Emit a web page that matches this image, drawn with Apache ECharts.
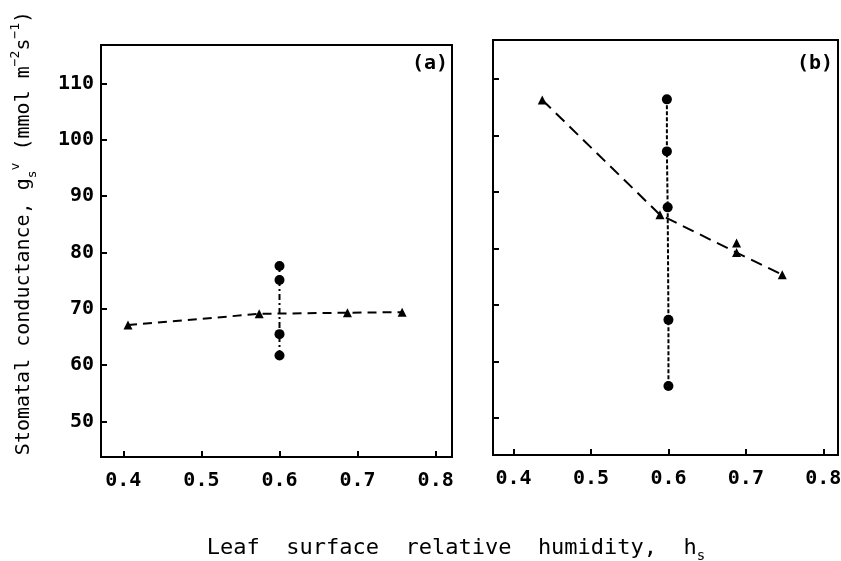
<!DOCTYPE html>
<html>
<head>
<meta charset="utf-8">
<style>html,body{margin:0;padding:0;background:#fff;}#c{width:841px;height:561px;}</style>
<script src="https://cdn.jsdelivr.net/npm/echarts@6/dist/echarts.min.js"></script>
</head>
<body>
<div id="c"></div>
<script>
// ---- data ----
var xTicks = [0.4, 0.5, 0.6, 0.7, 0.8];
var yTicks = [50, 60, 70, 80, 90, 100, 110];
// panel (a)
var aTriangles = [[0.406, 67.1], [0.574, 69.1], [0.687, 69.3], [0.757, 69.4]];
var aCircles = [[0.6, 77.6], [0.6, 75.1], [0.6, 65.5], [0.6, 61.7]];
// panel (b)
var bTriangles = [[0.437, 106.3], [0.589, 86.0], [0.688, 79.3], [0.747, 75.4]];
var bTriangleExtra = [[0.688, 81.0]];
var bCircles = [[0.598, 106.4], [0.598, 97.2], [0.599, 87.3], [0.6, 67.4], [0.6, 55.7]];

var FONT = 'DejaVu Sans Mono';

function xAxisCfg(gi, mn, mx) {
  return {
    type: 'value', gridIndex: gi, min: mn, max: mx,
    axisLine: {show: true, lineStyle: {color: '#000', width: 2}},
    axisTick: {show: true, inside: true, length: 6, customValues: xTicks, lineStyle: {color: '#000', width: 2}},
    axisLabel: {show: true, customValues: xTicks, color: '#000', fontSize: 20, fontWeight: 'bold', fontFamily: FONT, margin: 14,
      formatter: function (v) { return v.toFixed(1); }},
    splitLine: {show: false}
  };
}
function yAxisCfg(gi, mn, mx, showLabel) {
  return {
    type: 'value', gridIndex: gi, min: mn, max: mx,
    axisLine: {show: true, lineStyle: {color: '#000', width: 2}},
    axisTick: {show: true, inside: true, length: 6, customValues: yTicks, lineStyle: {color: '#000', width: 2}},
    axisLabel: {show: showLabel, customValues: yTicks, color: '#000', fontSize: 20, fontWeight: 'bold', fontFamily: FONT, margin: 7},
    splitLine: {show: false}
  };
}

var chart = echarts.init(document.getElementById('c'), null, {renderer: 'canvas'});
chart.setOption({
  backgroundColor: '#fff',
  animation: false,
  grid: [
    {left: 101, top: 45, width: 351, height: 412, show: true, borderColor: '#000', borderWidth: 2, containLabel: false, outerBoundsMode: 'none'},
    {left: 493, top: 40, width: 345, height: 415, show: true, borderColor: '#000', borderWidth: 2, containLabel: false, outerBoundsMode: 'none'}
  ],
  xAxis: [xAxisCfg(0, 0.3714, 0.8209), xAxisCfg(1, 0.3734, 0.819)],
  yAxis: [yAxisCfg(0, 43.7, 116.8, true), yAxisCfg(1, 43.5, 116.9, false)],
  series: [
    {type: 'line', xAxisIndex: 0, yAxisIndex: 0, data: aTriangles, symbol: 'triangle', symbolSize: 9,
      itemStyle: {color: '#000'}, lineStyle: {color: '#000', width: 2, type: [9, 6]}},
    {type: 'line', xAxisIndex: 0, yAxisIndex: 0, data: aCircles, symbol: 'circle', symbolSize: 10,
      itemStyle: {color: '#000'}, lineStyle: {color: '#000', width: 2, type: [6, 3, 2, 3]}},
    {type: 'line', xAxisIndex: 1, yAxisIndex: 1, data: bTriangles, symbol: 'triangle', symbolSize: 9,
      itemStyle: {color: '#000'}, lineStyle: {color: '#000', width: 2, type: [12, 7]}},
    {type: 'scatter', xAxisIndex: 1, yAxisIndex: 1, data: bTriangleExtra, symbol: 'triangle', symbolSize: 9,
      itemStyle: {color: '#000', opacity: 1}},
    {type: 'line', xAxisIndex: 1, yAxisIndex: 1, data: bCircles, symbol: 'circle', symbolSize: 10,
      itemStyle: {color: '#000'}, lineStyle: {color: '#000', width: 2, type: [4, 2]}}
  ],
  graphic: [
    {type: 'text', x: 430, y: 64, style: {text: '(a)', fill: '#000', font: 'bold 20px "DejaVu Sans Mono"', align: 'center', verticalAlign: 'middle'}},
    {type: 'text', x: 815, y: 64, style: {text: '(b)', fill: '#000', font: 'bold 20px "DejaVu Sans Mono"', align: 'center', verticalAlign: 'middle'}},
    {type: 'text', x: 456, y: 548, style: {
      text: '{n|Leaf  surface  relative  humidity,  h}{sub|s}',
      align: 'center', verticalAlign: 'middle',
      rich: {
        n: {fontSize: 22, fontFamily: FONT, fill: '#000', color: '#000', lineHeight: 30, verticalAlign: 'middle'},
        sub: {fontSize: 14, fontFamily: FONT, fill: '#000', color: '#000', lineHeight: 30, verticalAlign: 'bottom'}
      }}},
    {type: 'text', x: 24, y: 233, rotation: Math.PI / 2, style: {
      text: '{n|Stomatal conductance, g}{sub|s}{sup|v}{n| (mmol m}{sup|−2}{n|s}{sup|−1}{n|)}',
      align: 'center', verticalAlign: 'middle',
      rich: {
        n: {fontSize: 20, fontFamily: FONT, fill: '#000', color: '#000', lineHeight: 30, verticalAlign: 'middle'},
        sub: {fontSize: 13, fontFamily: FONT, fill: '#000', color: '#000', lineHeight: 30, verticalAlign: 'bottom'},
        sup: {fontSize: 13, fontFamily: FONT, fill: '#000', color: '#000', lineHeight: 30, verticalAlign: 'top'}
      }}}
  ]
});
</script>
</body>
</html>
